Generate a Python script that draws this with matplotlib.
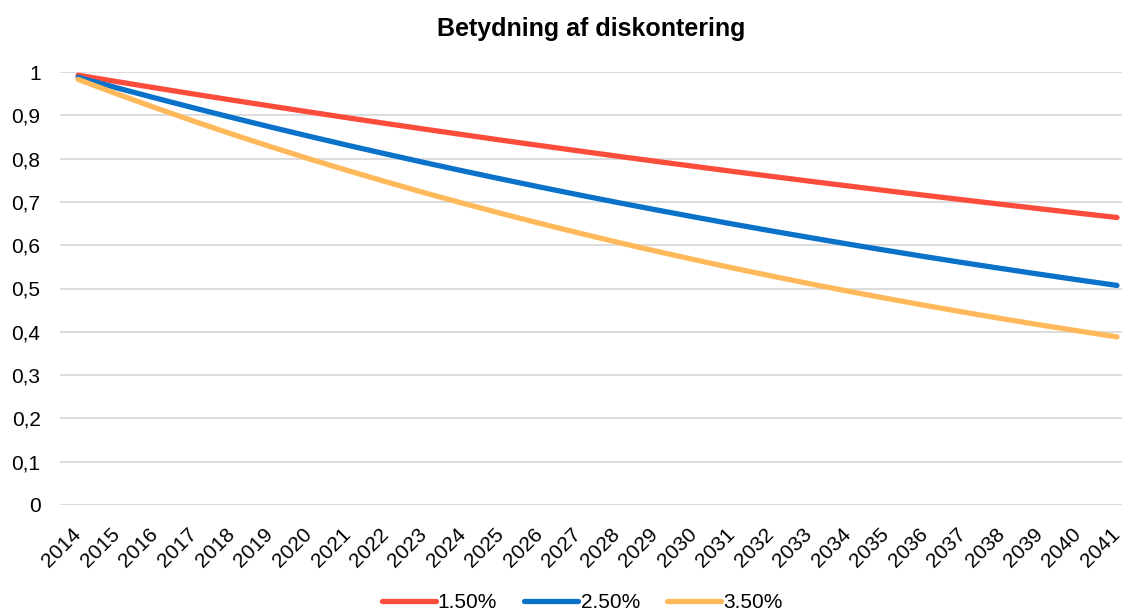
import matplotlib
matplotlib.use("Agg")
import matplotlib.pyplot as plt

plt.rcParams['font.family'] = ['Liberation Sans', 'DejaVu Sans']

years = [str(y) for y in range(2014, 2042)]
rate_1_5 = [0.9926, 0.9779, 0.9635, 0.9492, 0.9352, 0.9214, 0.9078, 0.8943,
            0.8811, 0.8681, 0.8553, 0.8426, 0.8302, 0.8179, 0.8058, 0.7939,
            0.7822, 0.7706, 0.7592, 0.7480, 0.7370, 0.7261, 0.7153, 0.7048,
            0.6944, 0.6841, 0.6740, 0.6640]
rate_2_5 = [0.9877, 0.9636, 0.9401, 0.9172, 0.8948, 0.8730, 0.8517, 0.8309,
            0.8107, 0.7909, 0.7716, 0.7528, 0.7344, 0.7165, 0.6990, 0.6820,
            0.6654, 0.6491, 0.6333, 0.6179, 0.6028, 0.5881, 0.5737, 0.5597,
            0.5461, 0.5328, 0.5198, 0.5071]
rate_3_5 = [0.9829, 0.9497, 0.9176, 0.8866, 0.8566, 0.8276, 0.7996, 0.7726,
            0.7465, 0.7212, 0.6968, 0.6733, 0.6505, 0.6285, 0.6072, 0.5867,
            0.5669, 0.5477, 0.5292, 0.5113, 0.4940, 0.4773, 0.4612, 0.4456,
            0.4305, 0.4159, 0.4019, 0.3883]
series_labels = ["1.50%", "2.50%", "3.50%"]
colors = ["#FC4C3C", "#0B72CA", "#FFB95A"]
yticks = [0, 0.1, 0.2, 0.3, 0.4, 0.5, 0.6, 0.7, 0.8, 0.9, 1]
ytick_labels = ["0", "0,1", "0,2", "0,3", "0,4", "0,5", "0,6", "0,7", "0,8", "0,9", "1"]

fig = plt.figure(figsize=(11.24, 6.13), dpi=100)
ax = fig.add_axes([60/1124, 108/613, 1062/1124, 433/613])

x = list(range(len(years)))
for vals, lab, c in zip([rate_1_5, rate_2_5, rate_3_5], series_labels, colors):
    ax.plot(x, vals, color=c, lw=3.8, label=lab, solid_capstyle='round', zorder=3)

ax.set_ylim(0, 1)
ax.set_xlim(-0.47, 27.13)
ax.set_yticks(yticks)
ax.set_yticklabels(ytick_labels, fontsize=15)
ax.set_xticks(x)
ax.set_xticklabels(years, rotation=45, ha='right', va='center', rotation_mode='anchor', fontsize=15)
ax.tick_params(axis='both', length=0)
ax.tick_params(axis='y', pad=14)
ax.tick_params(axis='x', pad=19)
ax.grid(axis='y', color='#D9D9D9', lw=1.3)
ax.set_axisbelow(True)
for s in ax.spines.values():
    s.set_visible(False)

ax.set_title("Betydning af diskontering", fontsize=18, fontweight='bold', pad=26)

leg = fig.legend(loc='center', bbox_to_anchor=(582/1124, 1 - 603/613), ncol=3,
                 frameon=False, fontsize=15, handlelength=2.6, handletextpad=0.1,
                 columnspacing=1.3)

fig.savefig("out.png", dpi=100)
